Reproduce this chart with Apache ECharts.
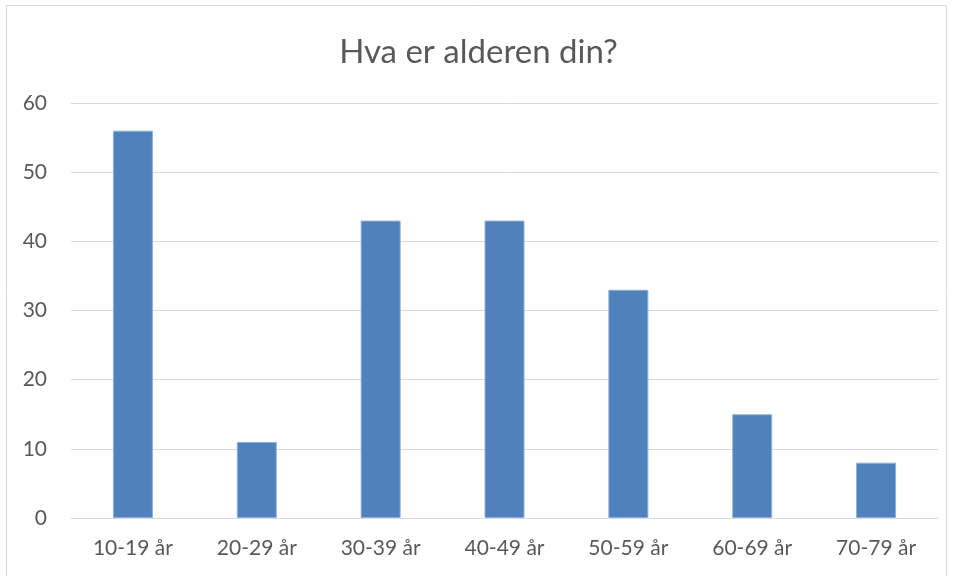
<!DOCTYPE html>
<html>
<head>
<meta charset="utf-8">
<script src="https://cdn.jsdelivr.net/npm/echarts@6/dist/echarts.min.js"></script>
<style>
  html, body { margin: 0; padding: 0; background: #fff; }
  #chart { width: 957px; height: 576px; }
</style>
</head>
<body>
<div id="chart"></div>
<script>
const categories = ['10-19 år', '20-29 år', '30-39 år', '40-49 år', '50-59 år', '60-69 år', '70-79 år']
const values = [56, 11, 43, 43, 33, 15, 8]

const myChart = echarts.init(document.getElementById('chart'))
const option = {
  animation: false,
  title: {
    text: 'Hva er alderen din?',
    left: 'center',
    top: 31,
    textStyle: {
      fontFamily: 'Lato',
      fontSize: 33,
      fontWeight: 'normal',
      color: '#595959'
    }
  },
  graphic: [{
    type: 'rect',
    shape: { x: 6.5, y: 5.5, width: 940, height: 600 },
    style: { fill: 'none', stroke: '#d9d9d9', lineWidth: 1 },
    silent: true
  }],
  grid: {
    left: 71,
    right: 19,
    top: 103,
    bottom: 58
  },
  xAxis: {
    type: 'category',
    data: categories,
    axisLine: { lineStyle: { color: '#d9d9d9' } },
    axisTick: { show: false },
    axisLabel: {
      color: '#595959',
      fontFamily: 'Lato',
      fontSize: 21,
      margin: 20
    }
  },
  yAxis: {
    type: 'value',
    min: 0,
    max: 60,
    interval: 10,
    axisLine: { show: false },
    axisTick: { show: false },
    splitLine: { lineStyle: { color: '#d9d9d9', width: 1 } },
    axisLabel: {
      color: '#595959',
      fontFamily: 'Lato',
      fontSize: 21,
      margin: 24
    }
  },
  series: [{
    type: 'bar',
    data: values,
    barWidth: 40,
    itemStyle: {
      color: '#4f81bd',
      borderColor: '#8eb0da',
      borderWidth: 1
    }
  }]
}
myChart.setOption(option)
</script>
</body>
</html>
